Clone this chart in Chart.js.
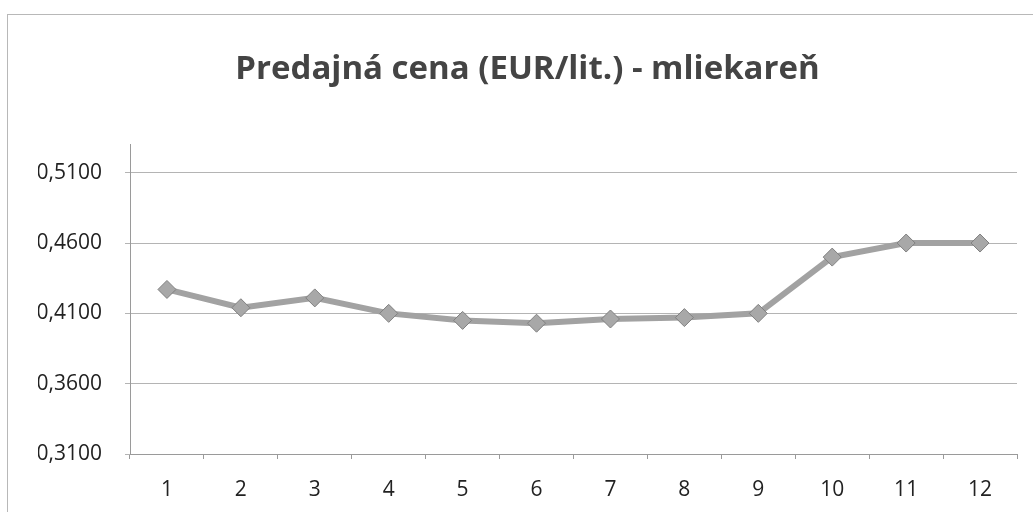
<!DOCTYPE html>
<html>
<head>
<meta charset="utf-8">
<script src="https://cdn.jsdelivr.net/npm/chart.js@4"></script>
<style>
  html, body { margin: 0; padding: 0; background: #fff; }
  #wrap { width: 1033px; height: 512px; position: relative; }
</style>
</head>
<body>
<div id="wrap"><canvas id="myChart" width="1033" height="512"></canvas></div>
<script>
const months = ['1', '2', '3', '4', '5', '6', '7', '8', '9', '10', '11', '12'];
const prices = [0.427, 0.414, 0.421, 0.410, 0.405, 0.403, 0.406, 0.407, 0.410, 0.450, 0.460, 0.460];
const yTicks = [0.31, 0.36, 0.41, 0.46, 0.51];

// light frame around the chart, like the scanned Excel chart
const framePlugin = {
    id: 'frame',
    beforeDraw(chart) {
        const c = chart.ctx;
        c.save();
        c.strokeStyle = '#b8b8b8';
        c.lineWidth = 1;
        c.strokeRect(7.5, 14.5, 2000, 2000);
        c.restore();
    }
};

const ctx = document.getElementById('myChart').getContext('2d');
const myChart = new Chart(ctx, {
    type: 'line',
    data: {
        labels: months,
        datasets: [{
            label: 'Predajná cena',
            data: prices,
            borderColor: '#a2a2a2',
            borderWidth: 6,
            pointStyle: 'rectRot',
            pointRadius: 9,
            pointBackgroundColor: '#a8a8a8',
            pointBorderColor: '#808080',
            pointBorderWidth: 1,
            tension: 0
        }]
    },
    options: {
        responsive: false,
        animation: false,
        layout: { padding: { left: 38, right: 16, top: 0, bottom: 0 } },
        plugins: {
            legend: { display: false },
            tooltip: { enabled: false },
            title: {
                display: true,
                text: 'Predajná cena (EUR/lit.) - mliekareň',
                color: '#444',
                font: { family: 'Open Sans', size: 33, weight: 'bold' },
                padding: { top: 50, bottom: 55 }
            }
        },
        scales: {
            x: {
                offset: true,
                grid: {
                    offset: true,
                    drawOnChartArea: false,
                    drawTicks: true,
                    tickLength: 5,
                    color: '#9a9a9a'
                },
                border: { display: true, color: '#9a9a9a' },
                ticks: {
                    color: '#222',
                    font: { family: 'Open Sans', size: 21 },
                    padding: 18,
                    maxRotation: 0
                },
                afterFit(scale) { scale.height = 58; }
            },
            y: {
                min: 0.31,
                max: 0.53,
                afterBuildTicks(scale) {
                    scale.ticks = yTicks.map(v => ({ value: v }));
                },
                grid: {
                    color: '#b4b4b4',
                    tickLength: 5
                },
                border: { display: true, color: '#9a9a9a' },
                ticks: {
                    color: '#222',
                    font: { family: 'Open Sans', size: 21 },
                    padding: 23,
                    callback: v => v.toFixed(4).replace('.', ',')
                },
                afterFit(scale) { scale.width = 92; }
            }
        }
    },
    plugins: [framePlugin]
});
</script>
</body>
</html>
